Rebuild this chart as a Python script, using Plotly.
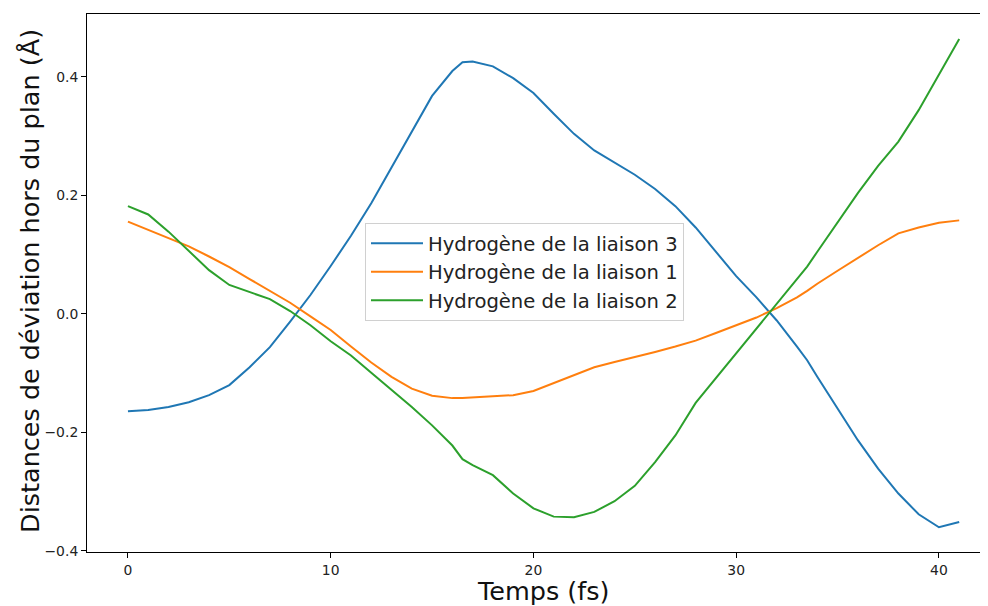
import plotly.graph_objects as go

temps = [0, 1, 2, 3, 4, 5, 6, 7, 8, 9, 10, 11, 12, 13, 14, 15, 16, 16.5, 17, 18, 19, 20,
         21, 22, 23, 24, 25, 26, 27, 28, 29, 30, 31, 32, 33, 33.5, 34, 35, 36, 37, 38, 39, 40, 41]

liaison3 = [-0.164, -0.162, -0.157, -0.149, -0.137, -0.120, -0.090, -0.056, -0.013, 0.032,
            0.081, 0.132, 0.187, 0.248, 0.309, 0.368, 0.410, 0.425, 0.426, 0.418, 0.398,
            0.373, 0.338, 0.304, 0.276, 0.255, 0.235, 0.211, 0.182, 0.146, 0.105, 0.064,
            0.028, -0.011, -0.055, -0.078, -0.106, -0.160, -0.213, -0.261, -0.303, -0.338,
            -0.360, -0.351]

liaison1 = [0.156, 0.142, 0.129, 0.114, 0.097, 0.079, 0.059, 0.039, 0.019, -0.004,
            -0.027, -0.055, -0.082, -0.106, -0.126, -0.138, -0.142, -0.142, -0.141, -0.140,
            -0.137, -0.130, -0.117, -0.103, -0.090, -0.081, -0.073, -0.064, -0.055, -0.045,
            -0.032, -0.019, -0.006, 0.010, 0.028, 0.039, 0.051, 0.073, 0.095, 0.116, 0.136,
            0.146, 0.154, 0.158]

liaison2 = [0.182, 0.168, 0.139, 0.107, 0.074, 0.049, 0.037, 0.025, 0.005, -0.019,
            -0.046, -0.070, -0.099, -0.128, -0.157, -0.188, -0.222, -0.245, -0.255, -0.272,
            -0.303, -0.328, -0.342, -0.343, -0.334, -0.316, -0.290, -0.250, -0.205, -0.150,
            -0.108, -0.068, -0.025, 0.017, 0.059, 0.080, 0.105, 0.155, 0.204, 0.250, 0.291,
            0.344, 0.405, 0.464]

series = [
    ("Hydrogène de la liaison 3", liaison3, "#1f77b4"),
    ("Hydrogène de la liaison 1", liaison1, "#ff7f0e"),
    ("Hydrogène de la liaison 2", liaison2, "#2ca02c"),
]

x_title = "Temps (fs)"
y_title = "Distances de déviation hors du plan (Å)"

fig = go.Figure()
for name, vals, col in series:
    fig.add_trace(go.Scatter(x=temps, y=vals, mode="lines", name=name,
                             line=dict(color=col, width=2)))

font = "DejaVu Sans, Verdana, sans-serif"
fig.update_layout(
    width=988, height=606,
    margin=dict(l=79, r=8, t=6, b=62),
    paper_bgcolor="white", plot_bgcolor="white",
    font=dict(family=font, color="#222"),
    showlegend=True,
    legend=dict(x=(365 - 87) / 901, y=(552 - 223) / 538, xanchor="left", yanchor="top",
                bgcolor="rgba(255,255,255,0.8)", bordercolor="#d0d0d0", borderwidth=1,
                itemwidth=52,
                font=dict(size=19.6, family=font, color="#222")),
    annotations=[
        dict(text=x_title, xref="paper", yref="paper", x=(543 - 87) / 901,
             y=(552 - 591) / 538, xanchor="center", yanchor="middle", showarrow=False,
             font=dict(size=25.5, family=font, color="#111")),
        dict(text=y_title, xref="paper", yref="paper", x=(30 - 87) / 901,
             y=(552 - 281) / 538, xanchor="center", yanchor="middle", showarrow=False,
             textangle=-90, font=dict(size=25.5, family=font, color="#111")),
    ],
)
fig.update_xaxes(
    range=[-2.02, 42.42], showgrid=False, zeroline=False, automargin=False,
    showline=True, linecolor="black", linewidth=1, mirror=True,
    ticks="outside", ticklen=5, tickcolor="black", tickwidth=1,
    tickvals=[0, 10, 20, 30, 40], tickfont=dict(size=13.9),
)
fig.update_yaxes(
    range=[-0.4017, 0.5063], showgrid=False, zeroline=False, automargin=False,
    showline=True, linecolor="black", linewidth=1,
    ticks="outside", ticklen=5, tickcolor="black", tickwidth=1,
    tickvals=[-0.4, -0.2, 0.0, 0.2, 0.4], ticktext=["\u22120.4", "\u22120.2", "0.0", "0.2", "0.4"],
    tickfont=dict(size=13.9),
)
fig.write_html("out.html")
